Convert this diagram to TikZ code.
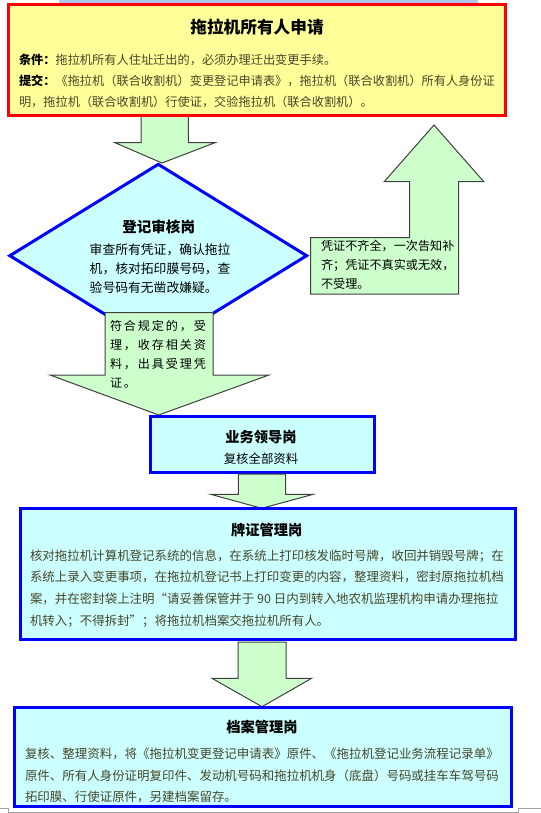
\documentclass[tikz,border=0pt]{standalone}
\usepackage{fontspec}
\setmainfont{Noto Sans CJK SC}
\newfontfamily\cjkwide{Noto Sans CJK SC}[LetterSpace=16]
\usetikzlibrary{shapes.geometric}
\definecolor{yelfill}{HTML}{FFFF99}
\definecolor{cyanfill}{HTML}{CCFFFF}
\definecolor{arrfill}{HTML}{CCFFCC}
\definecolor{arrline}{HTML}{404040}
\definecolor{bodytxt}{RGB}{70,70,40}
\definecolor{stripblue}{RGB}{176,200,240}
\definecolor{markgray}{RGB}{160,160,160}
\newcommand\myfs[2]{\fontsize{#1}{#2}\selectfont}
\tikzset{
  blockarrow/.style={fill=arrfill, draw=arrline, line width=0.75pt, line join=miter},
  bluebox/.style={rectangle, fill=cyanfill, draw=blue, line width=2.25pt, inner sep=0pt},
  redbox/.style={rectangle, fill=yelfill, draw=red, line width=2.5pt, inner sep=0pt},
  txt/.style={inner sep=0pt, outer sep=0pt, align=left, anchor=west},
  ttl/.style={inner sep=0pt, outer sep=0pt, font=\bfseries\myfs{10.7}{13}},
}
\begin{document}
\begin{tikzpicture}[x=0.75pt,y=-0.75pt]
\useasboundingbox (0,0) rectangle (541,813);
% top strip
\fill[stripblue] (58.7,0) rectangle (478,3.5);
% arrow 1
\draw[blockarrow] (141,100) -- (188.3,100) -- (188.3,142.7) -- (215,142.7) -- (162,163) -- (115,142.7) -- (141,142.7) -- cycle;
% applicant box
\node[redbox, minimum width=373.1pt, minimum height=83.3pt] (apply) at (256.95,60.15) {};
\node[ttl, font=\bfseries\myfs{12.5}{15}] (applyT) at (257,26.7) {拖拉机所有人申请};
\node[txt, text=bodytxt, font=\myfs{9.15}{15.6}] (applyB) at (19,80.85)
 {\textbf{\color{black}条件：}拖拉机所有人住址迁出的，必须办理迁出变更手续。\\
  \textbf{\color{black}提交：}《拖拉机（联合收割机）变更登记申请表》，拖拉机（联合收割机）所有人身份证\\
  明，拖拉机（联合收割机）行使证，交验拖拉机（联合收割机）。};
% diamond
\node[diamond, fill=cyanfill, draw=blue, line width=2.25pt, inner sep=0pt,
      minimum width=223.5pt, minimum height=138pt] (check) at (158.25,255.7) {};
% right callout (reject)
\draw[blockarrow] (310.6,237.5) -- (409.5,237.5) -- (409.5,181.7) -- (384.2,181.7) -- (434,125)
  -- (483.8,181.7) -- (458.7,181.7) -- (458.7,294) -- (310.6,294) -- cycle;
% down callout (accept)
\draw[blockarrow] (105,312.7) -- (213,312.7) -- (213,375) -- (269,375) -- (158.7,415)
  -- (50,375) -- (105,375) -- cycle;
\node[ttl, font=\bfseries\myfs{10.9}{13}] (checkT) at (158.7,227.3) {登记审核岗};
\node[txt, font=\myfs{9.6}{14.1}] (checkB) at (89.7,268.85)
 {审查所有凭证，确认拖拉\\机，核对拓印膜号码，查\\验号码有无凿改嫌疑。};
\node[txt, font=\myfs{9.1}{14.4}] (reject) at (321,264.65)
 {凭证不齐全，一次告知补\\齐；凭证不真实或无效，\\不受理。};
\node[txt, font=\cjkwide\myfs{9.05}{14.3}] (accept) at (110,354.65)
 {符合规定的，受\\理，收存相关资\\料，出具受理凭\\证。};
% leader box
\node[bluebox, minimum width=168.3pt, minimum height=42.1pt] (lead) at (262.7,444.15) {};
\node[ttl] (leadT) at (261,436.7) {业务领导岗};
\node[inner sep=0pt, font=\myfs{9.3}{12}] (leadB) at (261,458.3) {复核全部资料};
% arrow 3
\draw[blockarrow] (238.3,474) -- (285.7,474) -- (285.7,494.3) -- (313.3,494.3) -- (261.7,508.3)
  -- (210.7,494.3) -- (238.3,494.3) -- cycle;
% licence box
\node[bluebox, minimum width=371.85pt, minimum height=98.1pt] (plate) at (268,574.2) {};
\node[ttl] (plateT) at (266.7,530) {牌证管理岗};
\node[txt, text=bodytxt, font=\myfs{9.35}{16.25}] (plateB) at (30,588.5)
 {核对拖拉机计算机登记系统的信息，在系统上打印核发临时号牌，收回并销毁号牌；在\\
  系统上录入变更事项，在拖拉机登记书上打印变更的内容，整理资料，密封原拖拉机档\\
  案，并在密封袋上注明“请妥善保管并于 90 日内到转入地农机监理机构申请办理拖拉\\
  机转入；不得拆封”；将拖拉机档案交拖拉机所有人。};
% arrow 4
\draw[blockarrow] (238,642) -- (286,642) -- (286,678.3) -- (311.6,678.3) -- (262,706.7)
  -- (212,678.3) -- (238,678.3) -- cycle;
% archive box
\node[bluebox, minimum width=372.5pt, minimum height=74.3pt] (archive) at (263.25,757.35) {};
\node[ttl] (archiveT) at (262,727.3) {档案管理岗};
\node[txt, text=bodytxt, font=\myfs{9.35}{15.9}] (archiveB) at (25,775.5)
 {复核、整理资料，将《拖拉机变更登记申请表》原件、《拖拉机登记业务流程记录单》\\
  原件、所有人身份证明复印件、发动机号码和拖拉机机身（底盘）号码或挂车车驾号码\\
  拓印膜、行使证原件，另建档案留存。};
% page corner marks
\draw[markgray, line width=0.75pt] (0,808.5) -- (8,808.5) -- (8,813);
\draw[markgray, line width=0.75pt] (541,808.5) -- (518.7,808.5) -- (518.7,813);
\draw[markgray, line width=0.75pt] (8,812) -- (518.7,812);
\end{tikzpicture}
\end{document}
